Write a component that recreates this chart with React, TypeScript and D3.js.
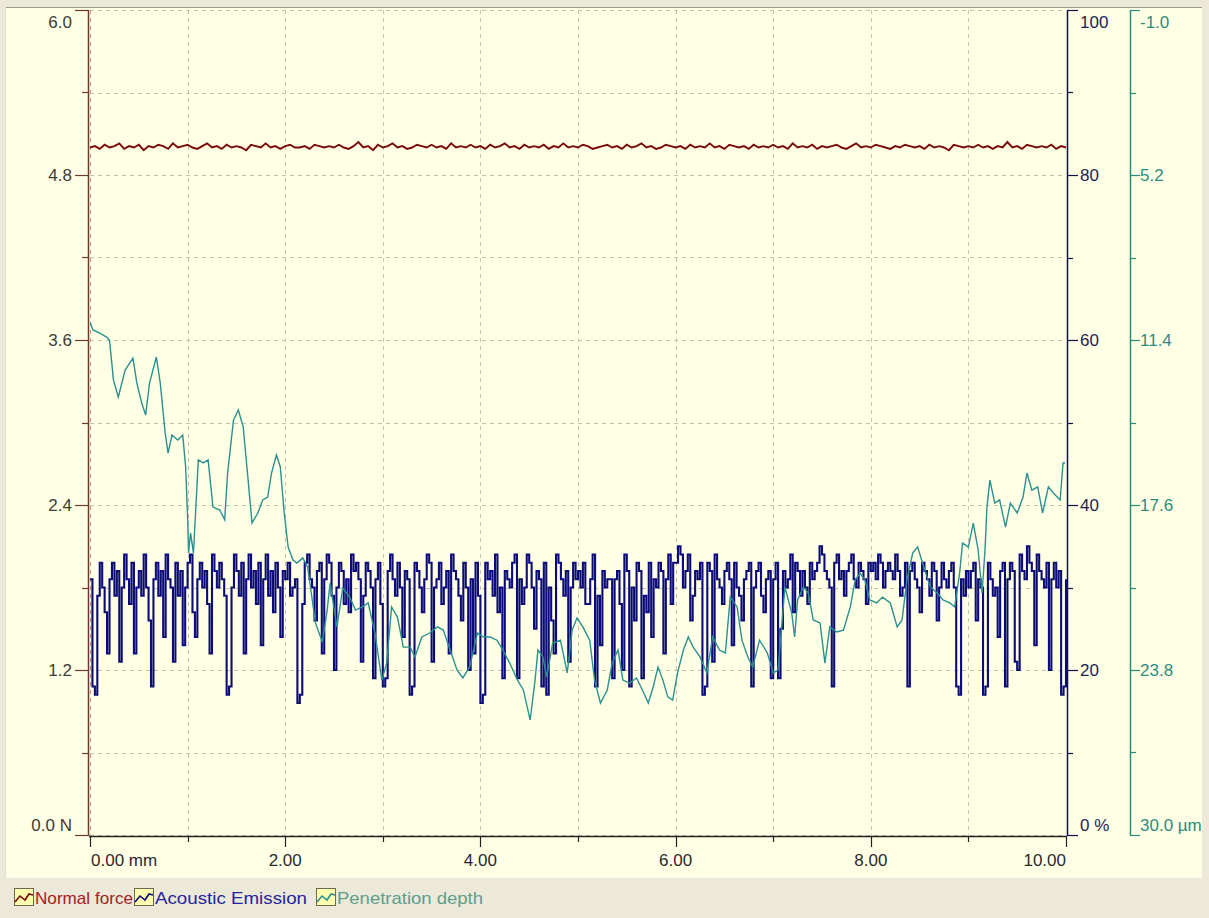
import React from "react";
import * as d3 from "d3";

// ---------- data ----------
const forceStep = 0.05; // mm
const forceValues = [
  5.00,5.01,4.99,5.02,5.00,5.01,5.03,4.99,5.01,5.00,5.02,4.98,5.01,5.00,5.02,5.01,4.99,5.03,5.00,5.01,
  5.02,5.00,4.99,5.01,5.03,5.00,5.01,4.99,5.02,5.00,5.01,5.00,4.98,5.02,5.01,5.00,5.03,5.00,5.01,4.99,
  5.01,5.02,5.00,5.00,5.01,4.99,5.02,5.01,5.00,5.01,5.00,5.02,5.00,4.99,5.01,5.04,5.00,5.01,4.98,5.02,
  5.00,5.01,5.03,5.00,5.01,4.99,5.00,5.02,5.01,5.00,5.02,5.00,5.01,4.99,5.03,5.00,5.01,5.00,5.02,5.00,
  5.01,4.99,5.02,5.00,5.01,5.03,5.00,5.01,4.99,5.02,5.00,5.01,5.00,5.02,4.99,5.01,5.00,5.03,5.00,5.01,
  5.00,5.02,5.01,4.99,5.00,5.01,5.02,5.00,5.01,4.99,5.02,5.00,5.01,5.03,5.00,5.01,4.99,5.00,5.02,5.01,
  5.00,5.01,4.99,5.02,5.00,5.01,5.00,5.03,5.00,5.01,4.99,5.02,5.01,5.00,5.01,4.99,5.02,5.00,5.01,5.00,
  5.02,5.00,5.01,4.99,5.03,5.00,5.01,5.00,5.02,4.99,5.01,5.00,5.01,5.02,5.00,4.99,5.01,5.03,5.00,5.01,
  5.00,5.02,5.01,5.00,4.99,5.01,5.00,5.02,5.01,5.00,5.01,4.99,5.02,5.00,5.01,5.00,4.98,5.02,5.01,5.00,
  5.01,5.00,5.02,5.00,5.01,4.99,5.01,5.00,5.04,5.00,5.01,4.99,5.02,5.01,5.00,5.01,5.00,5.02,4.99,5.01,5.00,
];

const aeStep = 0.025; // mm
const aeValues = [
  31,18,17,29,33,30,27,22,31,33,29,32,21,30,34,31,28,33,22,30,32,29,34,30,26,18,31,33,29,32,24,34,31,30,21,33,29,32,23,30,
  33,34,27,24,31,33,30,32,28,22,34,32,30,33,31,29,17,18,30,34,32,29,33,22,31,34,30,32,28,33,23,31,34,29,32,27,33,30,24,32,
  31,33,29,30,31,16,17,28,33,34,31,30,26,32,33,22,31,34,33,29,20,30,33,32,28,31,27,34,32,33,31,21,29,33,32,30,19,31,33,28,
  18,19,32,34,31,29,33,30,24,32,31,17,18,33,32,30,27,31,34,33,21,30,31,33,28,30,32,22,34,32,31,29,26,33,30,20,31,22,33,29,
  16,17,33,31,32,29,34,27,30,19,32,31,30,33,34,19,31,28,30,34,33,30,25,32,31,18,33,17,30,26,22,34,33,31,29,32,21,30,33,31,
  32,30,33,28,28,31,34,18,29,23,32,30,31,31,19,31,32,28,20,34,32,18,30,26,33,32,19,29,27,33,24,31,30,33,32,22,31,34,28,33,
  33,35,34,30,32,34,26,29,32,31,33,17,18,33,32,21,34,31,30,28,32,33,31,23,33,30,29,26,31,32,33,18,30,32,33,29,27,31,32,19,
  31,33,19,25,32,30,31,34,27,33,32,29,32,30,28,33,31,32,33,35,34,32,31,30,18,33,34,31,32,29,32,33,34,31,30,33,32,31,28,33,
  32,33,31,34,33,30,32,33,32,31,34,32,29,30,33,18,32,33,31,30,27,33,32,31,29,33,32,26,30,33,31,30,32,33,30,18,17,31,29,32,
  30,32,33,26,31,30,17,18,33,31,29,30,24,32,33,18,31,33,32,21,20,34,32,31,35,33,32,23,34,32,31,30,33,20,31,33,30,32,17,18,31,
];

const penMm = [
  0.00,0.03,0.10,0.17,0.20,0.24,0.29,0.36,0.44,0.48,0.53,0.57,0.61,0.68,0.72,0.77,0.80,0.84,0.90,0.95,
  0.98,1.00,1.01,1.03,1.06,1.11,1.16,1.21,1.26,1.33,1.38,1.41,1.47,1.52,1.57,1.62,1.66,1.72,1.77,1.82,
  1.86,1.91,1.95,1.99,2.03,2.08,2.12,2.18,2.23,2.31,2.38,2.43,2.46,2.53,2.59,2.66,2.72,2.79,2.85,2.92,
  2.99,3.04,3.09,3.15,3.21,3.28,3.33,3.40,3.48,3.56,3.62,3.69,3.76,3.82,3.89,3.97,4.03,4.10,4.17,4.23,
  4.30,4.38,4.44,4.51,4.56,4.59,4.64,4.68,4.74,4.82,4.89,4.94,4.99,5.05,5.12,5.17,5.23,5.30,5.35,5.41,
  5.46,5.53,5.60,5.66,5.72,5.77,5.82,5.87,5.92,5.97,6.02,6.08,6.13,6.18,6.25,6.32,6.38,6.45,6.51,6.56,
  6.63,6.68,6.74,6.79,6.86,6.94,7.00,7.05,7.12,7.19,7.22,7.25,7.31,7.36,7.41,7.48,7.53,7.58,7.65,7.72,
  7.79,7.84,7.89,7.94,7.99,8.06,8.12,8.20,8.27,8.32,8.37,8.43,8.48,8.53,8.61,8.68,8.74,8.81,8.86,8.91,
  8.94,9.00,9.05,9.10,9.14,9.17,9.19,9.22,9.27,9.32,9.38,9.43,9.50,9.56,9.60,9.65,9.71,9.76,9.82,9.87,
  9.94,9.97,9.99,
];
const penUm = [
  10.72,11.02,11.14,11.29,11.40,12.90,13.54,12.53,12.08,13.02,13.77,14.22,13.02,12.04,13.02,14.89,15.65,14.97,15.16,14.97,
  16.17,18.05,19.40,18.65,19.40,15.91,16.02,15.91,17.68,17.79,18.16,16.40,14.41,14.03,14.67,16.66,18.28,17.90,17.41,17.30,
  16.40,15.72,16.17,17.90,19.18,19.67,19.78,19.59,19.93,22.03,22.75,21.55,20.53,22.18,20.72,21.06,21.55,21.43,21.28,22.41,
  24.18,23.54,21.43,21.81,22.94,22.94,23.31,22.56,22.41,22.18,22.30,23.05,23.80,24.10,23.69,22.41,22.56,22.56,22.68,23.05,
  23.54,24.18,24.55,25.68,24.18,23.05,23.31,24.06,22.79,22.68,23.91,22.30,21.85,22.18,22.68,24.18,25.04,24.55,23.54,23.05,
  24.18,24.29,24.10,24.55,25.04,24.44,23.69,24.18,24.81,24.93,23.91,23.05,22.56,22.94,23.31,23.91,22.56,23.05,23.16,21.06,
  21.43,22.68,23.31,23.69,22.68,23.16,23.91,23.80,20.68,21.66,22.56,21.17,20.68,20.91,21.92,22.03,23.54,22.18,22.37,22.30,
  21.43,20.42,20.16,20.42,21.17,21.28,21.06,21.28,22.18,21.92,20.42,19.40,19.18,19.78,20.68,20.91,21.17,21.28,21.43,20.16,
  19.03,19.18,18.28,19.29,20.91,19.29,17.68,16.66,17.53,17.41,18.43,17.53,17.90,17.30,16.40,17.04,16.92,17.90,16.92,17.15,
  17.41,16.02,16.02,
];

const forceTicks = [0, 1.2, 2.4, 3.6, 4.8, 6.0];
const forceTickLabels = ["0.0 N", "1.2", "2.4", "3.6", "4.8", "6.0"];
const aeTicks = [0, 20, 40, 60, 80, 100];
const aeTickLabels = ["0 %", "20", "40", "60", "80", "100"];
const penTicks = [30.0, 23.8, 17.6, 11.4, 5.2, -1.0];
const penTickLabels = ["30.0 µm", "23.8", "17.6", "11.4", "5.2", "-1.0"];
const xTicks = [0, 2, 4, 6, 8, 10];
const xTickLabels = ["0.00 mm", "2.00", "4.00", "6.00", "8.00", "10.00"];
const legendItems = ["Normal force", "Acoustic Emission", "Penetration depth"];

// ---------- styles ----------
const W = 1209;
const H = 918;
const FONT = "'Liberation Sans', Arial, sans-serif";
const FS = 17;
const C = {
  page: "#ECE9D8",
  panel: "#FFFFE6",
  grid: "#C4C2B0",
  force: "#7A0A0A",
  ae: "#0C0C78",
  pen: "#2A9090",
  leftAxis: "#6B3A2A",
  aeAxis: "#10104A",
  penAxis: "#2A8C7A",
  leftText: "#3E3A36",
  aeText: "#1E1E50",
  penText: "#2E8C7E",
};

export default function App() {
  const x = d3.scaleLinear().domain([0, 10]).range([90, 1066]);
  const yF = d3.scaleLinear().domain([0, 6]).range([835, 10]);
  const yA = d3.scaleLinear().domain([0, 100]).range([835, 10]);
  const yP = d3.scaleLinear().domain([-1, 30]).range([10, 835]);

  const forceLine = d3
    .line<number>()
    .x((_, i) => x(i * forceStep))
    .y((d) => yF(d));
  const aeLine = d3
    .line<number>()
    .x((_, i) => x(Math.min(10, i * aeStep)))
    .y((d) => yA(d))
    .curve(d3.curveStepAfter);
  const penLine = d3
    .line<number>()
    .x((_, i) => x(penMm[i]))
    .y((d) => yP(d));

  const [x0, x1] = x.range();
  const yTop = yF(6);
  const yBot = yF(0);
  const aeX = 1067;
  const penX = 1130;

  const hGrid = d3.range(1, 11).map((k) => k * 0.6);
  const vGrid = d3.range(1, 10);
  const forceMinor = [0.6, 1.8, 3.0, 4.2, 5.4];
  const aeMinor = [10, 30, 50, 70, 90];
  const penMinor = [26.9, 20.7, 14.5, 8.3, 2.1];
  const xMinor = [1, 3, 5, 7, 9];

  const labelY = (py: number) => {
    if (py <= yTop + 2) return yTop + 18;
    if (py >= yBot - 2) return yBot - 4;
    return py + 6;
  };

  const legendTextX = [35, 155, 337];
  const legendTextW = [98, 152, 146];

  return (
    <div style={{ position: "absolute", left: 0, top: 0 }}>
      <svg width={W} height={H} style={{ display: "block" }} fontFamily={FONT} fontSize={FS}>
        <defs>
          <clipPath id="panelClip">
            <rect x={5} y={7} width={1197} height={871} />
          </clipPath>
          <clipPath id="plotClip">
            <rect x={x0} y={yTop - 6} width={x1 - x0 + 1} height={yBot - yTop + 12} />
          </clipPath>
        </defs>
        <rect x={0} y={0} width={W} height={H} fill={C.page} />
        <rect x={5} y={7} width={1197} height={871} fill={C.panel} />
        <line x1={5} x2={1202} y1={7.5} y2={7.5} stroke="#9A9A90" strokeWidth={1} />
        <line x1={5.5} x2={5.5} y1={7} y2={878} stroke="#E0DED0" strokeWidth={1} />

        {/* grid */}
        <g stroke={C.grid} strokeWidth={1} strokeDasharray="4,4">
          {hGrid.map((v) => (
            <line key={"h" + v} x1={x0} x2={x1} y1={Math.round(yF(v)) + 0.5} y2={Math.round(yF(v)) + 0.5} />
          ))}
          <line x1={x0} x2={x1} y1={yBot + 0.5} y2={yBot + 0.5} />
          {vGrid.map((v) => (
            <line key={"v" + v} x1={Math.round(x(v)) + 0.5} x2={Math.round(x(v)) + 0.5} y1={yTop} y2={yBot} />
          ))}
        </g>
        <line x1={x0 + 0.5} x2={x0 + 0.5} y1={yTop} y2={yBot} stroke="#D88C7C" strokeWidth={1} strokeDasharray="4,4" />

        {/* series */}
        <g clipPath="url(#plotClip)" fill="none" strokeLinejoin="miter">
          <path d={aeLine(aeValues) || ""} stroke={C.ae} strokeWidth={2.1} />
          <path d={penLine(penUm) || ""} stroke={C.pen} strokeWidth={1.4} />
          <path d={forceLine(forceValues) || ""} stroke={C.force} strokeWidth={1.9} />
        </g>

        {/* left axis */}
        <line x1={88.5} x2={88.5} y1={yTop} y2={yBot + 1} stroke={C.leftAxis} strokeWidth={1.5} />
        {forceTicks.map((t, i) => (
          <g key={"ft" + t}>
            <line x1={75} x2={89} y1={Math.round(yF(t)) + 0.5} y2={Math.round(yF(t)) + 0.5} stroke={C.leftAxis} strokeWidth={1.2} />
            <text x={72} y={labelY(yF(t))} textAnchor="end" fill={C.leftText}>
              {forceTickLabels[i]}
            </text>
          </g>
        ))}
        {forceMinor.map((t) => (
          <line key={"fm" + t} x1={82} x2={89} y1={Math.round(yF(t)) + 0.5} y2={Math.round(yF(t)) + 0.5} stroke={C.leftAxis} strokeWidth={1.2} />
        ))}

        {/* bottom axis */}
        <line x1={x0 - 1} x2={x1 + 1} y1={836.5} y2={836.5} stroke="#222" strokeWidth={1.3} />
        {xTicks.map((t, i) => (
          <g key={"xt" + t}>
            <line x1={Math.round(x(t)) + 0.5} x2={Math.round(x(t)) + 0.5} y1={836} y2={847} stroke="#222" strokeWidth={1.2} />
            <text
              x={i === 0 ? x(t) + 1 : x(t)}
              y={866}
              textAnchor={i === 0 ? "start" : i === xTicks.length - 1 ? "end" : "middle"}
              fill="#2A2A2A"
            >
              {xTickLabels[i]}
            </text>
          </g>
        ))}
        {xMinor.map((t) => (
          <line key={"xm" + t} x1={Math.round(x(t)) + 0.5} x2={Math.round(x(t)) + 0.5} y1={836} y2={842} stroke="#222" strokeWidth={1.2} />
        ))}

        {/* acoustic emission axis */}
        <line x1={aeX + 0.5} x2={aeX + 0.5} y1={yTop} y2={yBot + 1} stroke={C.aeAxis} strokeWidth={1.5} />
        {aeTicks.map((t, i) => (
          <g key={"at" + t}>
            <line x1={aeX} x2={aeX + 11} y1={Math.round(yA(t)) + 0.5} y2={Math.round(yA(t)) + 0.5} stroke={C.aeAxis} strokeWidth={1.2} />
            <text x={aeX + 13} y={labelY(yA(t))} fill={C.aeText}>
              {aeTickLabels[i]}
            </text>
          </g>
        ))}
        {aeMinor.map((t) => (
          <line key={"am" + t} x1={aeX} x2={aeX + 6} y1={Math.round(yA(t)) + 0.5} y2={Math.round(yA(t)) + 0.5} stroke={C.aeAxis} strokeWidth={1.2} />
        ))}

        {/* penetration depth axis */}
        <g clipPath="url(#panelClip)">
          <line x1={penX + 0.5} x2={penX + 0.5} y1={yTop} y2={yBot + 1} stroke={C.penAxis} strokeWidth={1.5} />
          {penTicks.map((t, i) => (
            <g key={"pt" + t}>
              <line x1={penX} x2={penX + 10} y1={Math.round(yP(t)) + 0.5} y2={Math.round(yP(t)) + 0.5} stroke={C.penAxis} strokeWidth={1.2} />
              <text x={penX + 10} y={labelY(yP(t))} fill={C.penText}>
                {penTickLabels[i]}
              </text>
            </g>
          ))}
          {penMinor.map((t) => (
            <line key={"pm" + t} x1={penX} x2={penX + 6} y1={Math.round(yP(t)) + 0.5} y2={Math.round(yP(t)) + 0.5} stroke={C.penAxis} strokeWidth={1.2} />
          ))}
        </g>

        {/* legend */}
        {legendItems.map((name, i) => {
          const tx = legendTextX[i];
          const lx = tx - 21;
          const col = [C.force, C.ae, C.pen][i];
          const tcol = ["#A82020", "#2424A0", "#5E9E8E"][i];
          return (
            <g key={name}>
              <rect x={lx + 0.5} y={888.5} width={19} height={17} fill="#FFFFB0" stroke="#6A6A50" strokeWidth={1} />
              <path
                d={`M${lx + 1},${902} L${lx + 6},${896} L${lx + 11},${900} L${lx + 15},${894} L${lx + 19},${895}`}
                fill="none"
                stroke={col}
                strokeWidth={1.6}
              />
              <text x={tx} y={904} fill={tcol} textLength={legendTextW[i]} lengthAdjust="spacingAndGlyphs">
                {name}
              </text>
            </g>
          );
        })}
      </svg>
    </div>
  );
}
